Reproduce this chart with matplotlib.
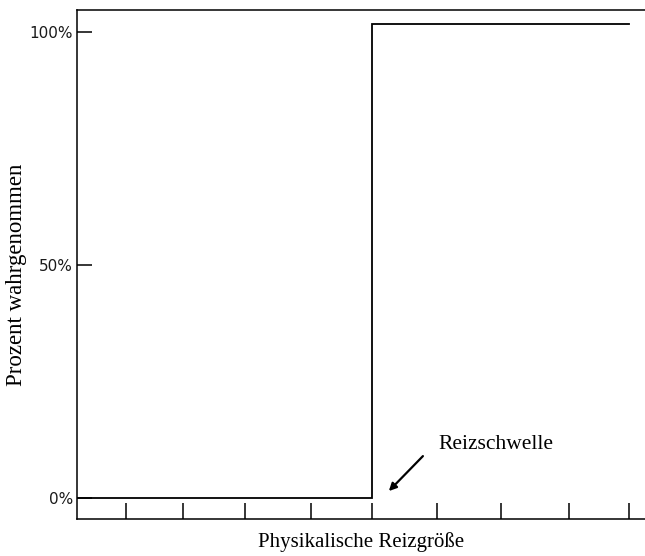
import matplotlib
matplotlib.use("Agg")
import matplotlib.pyplot as plt

# step response: stimulus size vs. percent perceived
step_x = [0.0, 5.19, 5.19, 9.72]
step_y = [0.0, 0.0, 101.7, 101.7]

x_ticks = [0.86, 1.86, 2.96, 4.12, 5.19, 6.34, 7.46, 8.66, 9.72]
y_ticks = [0, 50, 100]
y_tick_labels = ["0%", "50%", "100%"]

threshold_label = "Reizschwelle"
arrow_tail = (6.09, 9.0)
arrow_head = (5.49, 1.5)
label_pos = (6.36, 11.4)

plt.rcParams["font.family"] = ["Liberation Serif", "DejaVu Serif"]

fig = plt.figure(figsize=(6.45, 5.56), dpi=100)
ax = fig.add_axes([0.1194, 0.0665, 0.8806, 0.9155])

ax.plot(step_x, step_y, color="black", linewidth=1.3, solid_joinstyle="miter")

ax.set_xlim(0, 10.0)
ax.set_ylim(-4.5, 104.7)

ax.set_xticks(x_ticks)
ax.set_xticklabels([])
ax.set_yticks(y_ticks)
ax.set_yticklabels(y_tick_labels, fontsize=11, family="DejaVu Sans", color="#1a1a1a")

ax.tick_params(axis="x", direction="in", length=11.5, width=1.1)
ax.tick_params(axis="y", direction="in", length=10.5, width=1.1, pad=3)

ax.spines["right"].set_visible(False)
for side in ["left", "top", "bottom"]:
    ax.spines[side].set_linewidth(1.1)

ax.set_ylabel("Prozent wahrgenommen", fontsize=16.5, va="center", ha="center")
ax.yaxis.set_label_coords(-0.106, 0.479)
ax.set_xlabel("Physikalische Reizgröße", fontsize=15, va="center", ha="center")
ax.xaxis.set_label_coords(0.5, -0.045)

# annotation for the threshold
ax.text(label_pos[0], label_pos[1], threshold_label, fontsize=15.5,
        ha="left", va="center")
ax.annotate(
    "",
    xy=arrow_head,
    xytext=arrow_tail,
    arrowprops=dict(arrowstyle="-|>", color="black", lw=1.6,
                    shrinkA=0, shrinkB=0, mutation_scale=11),
)

plt.savefig("out.png", dpi=100)
